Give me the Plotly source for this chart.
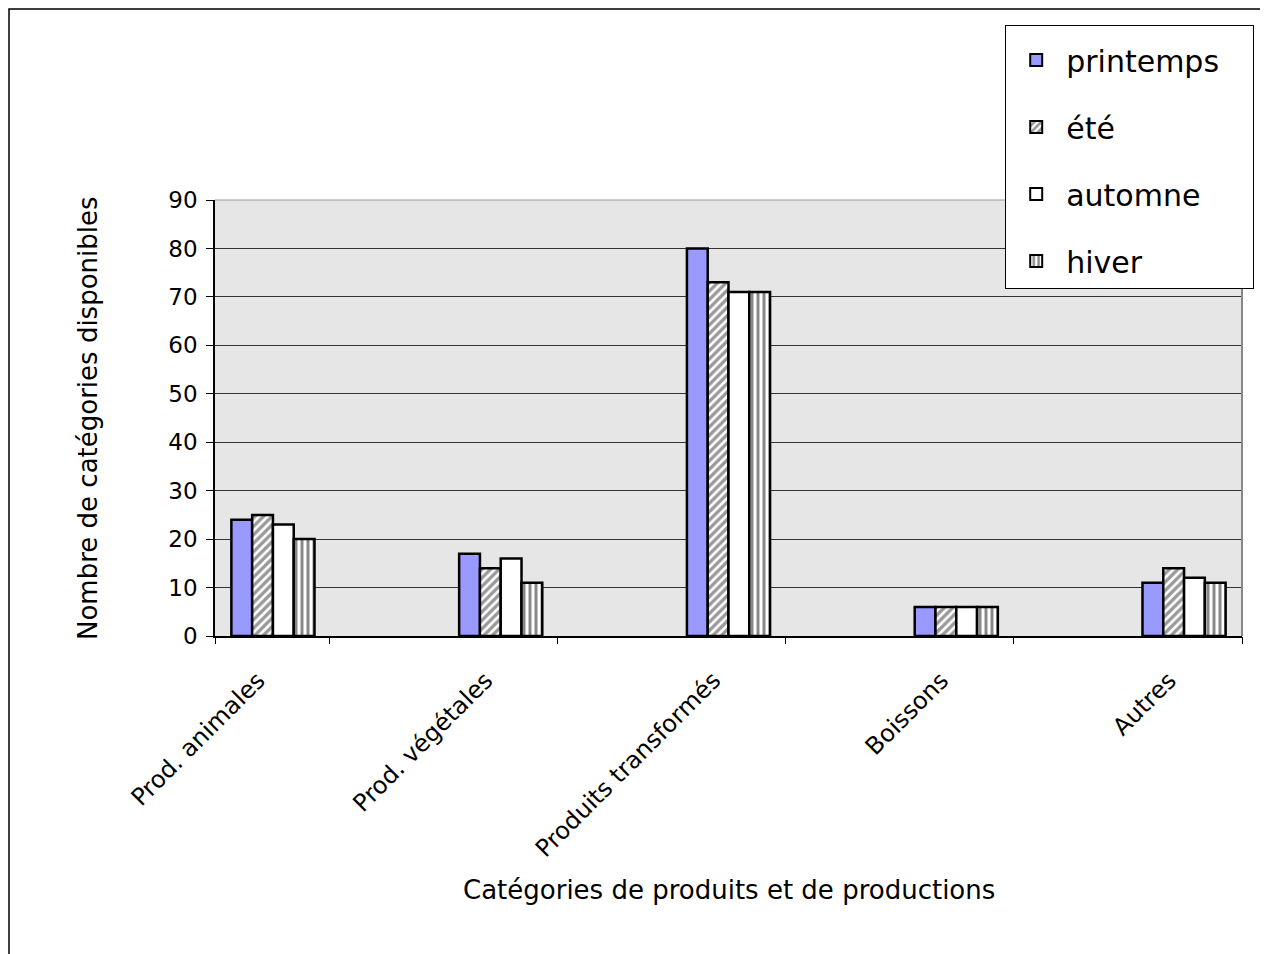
import plotly.graph_objects as go

categories = ["Prod. animales", "Prod. végétales", "Produits transformés", "Boissons", "Autres"]
series_names = ["printemps", "été", "automne", "hiver"]
printemps = [24, 17, 80, 6, 11]
ete = [25, 14, 73, 6, 14]
automne = [23, 16, 71, 6, 12]
hiver = [20, 11, 71, 6, 11]
y_ticks = [0, 10, 20, 30, 40, 50, 60, 70, 80, 90]

FONT = "DejaVu Sans, sans-serif"
NB = "\u00a0"

styles = [
    dict(color="#9999ff", pattern=dict(shape="")),
    dict(color="white", pattern=dict(shape="/", fgcolor="#333333", bgcolor="white", size=6, solidity=0.55)),
    dict(color="white", pattern=dict(shape="")),
    dict(color="white", pattern=dict(shape="|", fgcolor="#111111", bgcolor="white", size=6, solidity=0.5)),
]
pads = [2, 11, 3, 11]

fig = go.Figure()
for name, vals, st, pad in zip(series_names, [printemps, ete, automne, hiver], styles, pads):
    fig.add_trace(go.Bar(
        x=categories, y=vals, name=name + NB * pad, legendgroup=name,
        marker=dict(color=st["color"], pattern=st["pattern"], line=dict(color="black", width=2.5)),
    ))

# invisible trace to carry the boundary tick marks
fig.add_trace(go.Scatter(x=[0], y=[0], xaxis="x2", mode="markers",
                         marker=dict(opacity=0), showlegend=False, hoverinfo="skip"))

OFF = 8  # page body margin
PL, PR, PT, PB = 215, 1242, 200, 636  # plot area in screenshot pixels
W, H = 1268 - OFF, 954 - OFF
L, T = PL - OFF, PT - OFF
R, B = 1268 - PR, 954 - PB
pw, ph = PR - PL, PB - PT

def px_x(p):
    return (p - PL) / pw

def px_y(p):
    return (PB - p) / ph

edge = 58 / 228
fig.update_layout(
    width=W, height=H,
    margin=dict(l=L, r=R, t=T, b=B),
    paper_bgcolor="white",
    plot_bgcolor="#e6e6e6",
    barmode="group",
    bargap=0.635,
    bargroupgap=0,
    font=dict(family=FONT, color="black"),
    xaxis=dict(
        type="category", range=[-edge, 4 + edge],
        tickangle=-45, tickfont=dict(size=24, family=FONT),
        ticklabelstandoff=19, ticklabelshift=-15,
        ticks="", showline=True, linecolor="black", linewidth=1.5,
        showgrid=False, zeroline=False,
    ),
    xaxis2=dict(
        overlaying="x", range=[-edge, 4 + edge], side="bottom",
        tickvals=[-edge, 0.25, 1.25, 2.25, 3.25, 4 + edge],
        showticklabels=False, ticks="outside", ticklen=7, tickcolor="black",
        showgrid=False, zeroline=False, showline=False,
    ),
    yaxis=dict(
        range=[0, 90], tickvals=y_ticks, tickfont=dict(size=23, family=FONT),
        ticks="outside", ticklen=7, tickcolor="black", ticklabelstandoff=4,
        showline=True, linecolor="black", linewidth=1.5,
        showgrid=True, gridcolor="#333333", gridwidth=1, zeroline=False,
    ),
    legend=dict(
        x=px_x(1005), y=px_y(25), xanchor="left", yanchor="top",
        bgcolor="white", bordercolor="black", borderwidth=1.2,
        font=dict(size=30, family=FONT), tracegroupgap=25,
        itemsizing="constant", itemwidth=50,
        title=dict(text=NB, font=dict(size=6)),
    ),
    showlegend=True,
)

# plot area border (grey right and top)
fig.add_shape(type="line", xref="paper", yref="paper", x0=1, x1=1, y0=0, y1=1,
              line=dict(color="#888888", width=2))
fig.add_shape(type="line", xref="paper", yref="paper", x0=0, x1=1, y0=1, y1=1,
              line=dict(color="#999999", width=1))
# outer chart border
fig.add_shape(type="rect", xref="paper", yref="paper",
              x0=px_x(9), x1=px_x(1300), y0=px_y(1000), y1=px_y(9),
              line=dict(color="black", width=1.5))

fig.add_annotation(text="Nombre de catégories disponibles", xref="paper", yref="paper",
                   x=px_x(88), y=px_y(418), xanchor="center", yanchor="middle",
                   textangle=-90, showarrow=False,
                   font=dict(size=26, family=FONT))
fig.add_annotation(text="Catégories de produits et de productions", xref="paper", yref="paper",
                   x=px_x(729), y=px_y(890), xanchor="center", yanchor="middle",
                   showarrow=False,
                   font=dict(size=26, family=FONT))

fig.write_html("out.html")
